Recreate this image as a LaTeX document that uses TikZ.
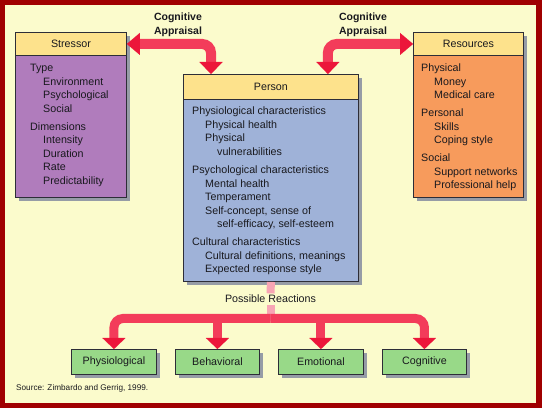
\documentclass[tikz,border=0pt]{standalone}
\usepackage{fontspec}
\setmainfont{Liberation Sans}
\usetikzlibrary{arrows.meta,shadows}
\definecolor{framec}{RGB}{160,0,0}
\definecolor{bgc}{RGB}{251,251,204}
\definecolor{hdrc}{RGB}{253,226,140}
\definecolor{purp}{RGB}{176,124,188}
\definecolor{bluec}{RGB}{159,178,216}
\definecolor{orangec}{RGB}{247,155,92}
\definecolor{greenc}{RGB}{152,217,136}
\definecolor{bordc}{RGB}{45,45,55}
\definecolor{shadc}{RGB}{150,156,166}
\definecolor{arrc}{RGB}{243,60,90}
\definecolor{tipc}{RGB}{236,22,58}
\definecolor{pinkc}{RGB}{248,165,180}
\definecolor{txtc}{RGB}{25,25,30}
\tikzset{
  boxbody/.style={draw=bordc, line width=0.9pt, anchor=north west, inner sep=0pt,
    drop shadow={shadow xshift=4pt, shadow yshift=-4pt, fill=shadc, opacity=1}},
  hdr/.style={draw=bordc, fill=hdrc, line width=0.9pt, anchor=north west, inner sep=0pt,
    font=\fontsize{10.7}{12}\selectfont, text=txtc},
  txt/.style={anchor=base west, inner sep=0pt, font=\fontsize{10.7}{12}\selectfont, text=txtc},
  reac/.style={draw=bordc, fill=greenc, line width=0.9pt, anchor=north west, inner sep=0pt,
    minimum height=25pt, font=\fontsize{10.7}{12}\selectfont, text=txtc,
    drop shadow={shadow xshift=4pt, shadow yshift=-4pt, fill=shadc, opacity=1}},
  bigarrow/.style={draw=arrc, line width=10pt, rounded corners=9pt,
    {Triangle[length=13pt,width=22pt,line width=0.01pt,fill=tipc,color=tipc]}-{Triangle[length=12pt,width=23pt,line width=0.01pt,fill=tipc,color=tipc]}},
  downarrow/.style={draw=arrc, line width=9pt, rounded corners=9pt,
    -{Triangle[length=11pt,width=23pt,line width=0.01pt,fill=tipc,color=tipc]}},
  pinkline/.style={draw=pinkc, line width=8pt},
  lbl/.style={inner sep=0pt, font=\fontsize{10.5}{14}\selectfont\bfseries, align=center, text=txtc},
}
\begin{document}
\begin{tikzpicture}[x=1pt,y=-1pt]
\useasboundingbox (0,0) rectangle (542,409);
\draw[line width=5.5pt, draw=framec, fill=bgc] (2.5,2.5) rectangle (539,405.5);

% boxes
\node[boxbody, fill=purp, minimum width=111pt, minimum height=165pt] (stressor) at (15,32) {};
\node[hdr, minimum width=111pt, minimum height=23pt] (stressorH) at (15,32) {Stressor};
\node[boxbody, fill=bluec, minimum width=175pt, minimum height=207pt] (person) at (183,74) {};
\node[hdr, minimum width=175pt, minimum height=25pt] (personH) at (183,74) {Person};
\node[boxbody, fill=orangec, minimum width=110pt, minimum height=165pt] (resources) at (413,32) {};
\node[hdr, minimum width=110pt, minimum height=23pt] (resourcesH) at (413,32) {Resources};

% texts
\foreach \t/\x/\y [count=\i] in {Type/30/72, Environment/43/85.5, Psychological/43/99, Social/43/112.5,
  Dimensions/30/130.5, Intensity/43/144, Duration/43/157.5, Rate/43/171, Predictability/43/184.5}
  \node[txt] (st\i) at (\x,\y) {\t};
\foreach \t/\x/\y [count=\i] in {Physical/421/72, Money/434/85.5, Medical care/434/99,
  Personal/421/117, Skills/434/130.5, Coping style/434/144,
  Social/421/162, Support networks/434/175.5, Professional help/434/189}
  \node[txt] (rs\i) at (\x,\y) {\t};
\foreach \t/\x/\y [count=\i] in {Physiological characteristics/192/115, Physical health/205/128.5,
  Physical/205/142, vulnerabilities/217/155.5,
  Psychological characteristics/192/174, Mental health/205/187.5, Temperament/205/201,
  {Self-concept, sense of}/205/214.5, {self-efficacy, self-esteem}/217/228,
  Cultural characteristics/192/246, {Cultural definitions, meanings}/205/259.5,
  Expected response style/205/273}
  \node[txt] (ps\i) at (\x,\y) {\t};

% reactions
\node[reac, minimum width=85pt] (g1) at (71,349) {Physiological};
\node[reac, minimum width=84pt] (g2) at (175,349) {Behavioral};
\node[reac, minimum width=85pt] (g3) at (278,349) {Emotional};
\node[reac, minimum width=84pt] (g4) at (382,349) {Cognitive};

% labels
\node[lbl] (ca1) at (178,25) {Cognitive\\Appraisal};
\node[lbl] (ca2) at (363,25) {Cognitive\\Appraisal};
\node[inner sep=1.5pt, font=\fontsize{10.7}{12}\selectfont, text=txtc] (pr) at (270.5,299) {Possible Reactions};
\node[anchor=base west, inner sep=0pt, font=\fontsize{8.2}{10}\selectfont, text=txtc] (src) at (16,391) {Source: Zimbardo and Gerrig, 1999.};

% top arrows
\draw[bigarrow] (stressorH.east) -| ([xshift=28pt]person.north west);
\draw[bigarrow] (resourcesH.west) -| ([xshift=-31pt]person.north east);

% bottom connectors
\coordinate (j) at (270.5,318.5);
\draw[pinkline] (person.south) -- (pr.north);
\draw[pinkline] (pr.south) -- ([yshift=-3pt]j);
\draw[downarrow] (j) -| (g1.north);
\draw[downarrow] (j) -| (g4.north);
\draw[downarrow] (g2.north |- j) -- (g2.north);
\draw[downarrow] (g3.north |- j) -- (g3.north);
\end{tikzpicture}
\end{document}
